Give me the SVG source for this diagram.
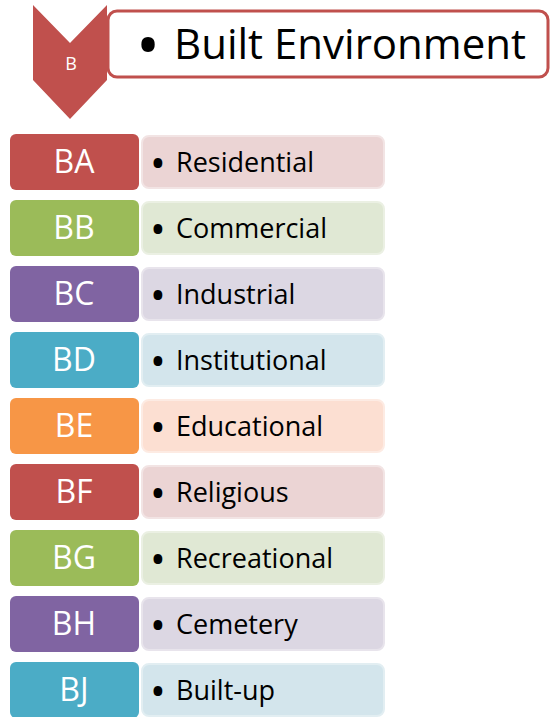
<svg xmlns="http://www.w3.org/2000/svg" width="550" height="717" viewBox="0 0 550 717">
<style>
.lab{fill:#fff;font-family:"Open Sans","Liberation Sans",sans-serif;font-size:32px;text-anchor:middle}
.txt{fill:#000;font-family:"Open Sans","Liberation Sans",sans-serif;font-size:27px}
.bul{fill:#000;font-family:"Open Sans","Liberation Sans",sans-serif;font-size:42px}
.r{fill:#C0504D}.g{fill:#9BBB59}.p{fill:#8064A2}.t{fill:#4BACC6}.o{fill:#F79646}
.rl{fill:#EBD4D4;stroke:#F2E4E4}.gl{fill:#E0E8D4;stroke:#EBF0E3}.pl{fill:#DCD7E3;stroke:#E8E4EC}.tl{fill:#D3E5EC;stroke:#E2EEF2}.ol{fill:#FCDFD2;stroke:#FDEBE3}
</style>
<g id="header">
<rect x="108" y="11" width="440" height="66" rx="9" fill="#fff" stroke="#C0504D" stroke-width="3"/>
<polygon points="33,5 70,43 107,5 107,80 70,119 33,80" fill="#C0504D"/>
<text x="71" y="70" fill="#fff" font-family="Open Sans,Liberation Sans,sans-serif" font-size="18" text-anchor="middle">B</text>
<text x="136" y="68" font-family="Open Sans,Liberation Sans,sans-serif" font-size="64">•</text>
<text x="174" y="59" font-family="Open Sans,Liberation Sans,sans-serif" font-size="42">Built Environment</text>
</g>
<g id="BA"><rect x="142" y="136" width="242" height="52" rx="7" class="rl" stroke-width="2"/><rect x="10" y="134" width="129" height="56" rx="6" class="r"/><text x="74" y="173" class="lab">BA</text><text x="150" y="178" class="bul">•</text><text x="176" y="172" class="txt">Residential</text></g>
<g id="BB"><rect x="142" y="202" width="242" height="52" rx="7" class="gl" stroke-width="2"/><rect x="10" y="200" width="129" height="56" rx="6" class="g"/><text x="74" y="239" class="lab">BB</text><text x="150" y="244" class="bul">•</text><text x="176" y="238" class="txt">Commercial</text></g>
<g id="BC"><rect x="142" y="268" width="242" height="52" rx="7" class="pl" stroke-width="2"/><rect x="10" y="266" width="129" height="56" rx="6" class="p"/><text x="74" y="305" class="lab">BC</text><text x="150" y="310" class="bul">•</text><text x="176" y="304" class="txt">Industrial</text></g>
<g id="BD"><rect x="142" y="334" width="242" height="52" rx="7" class="tl" stroke-width="2"/><rect x="10" y="332" width="129" height="56" rx="6" class="t"/><text x="74" y="371" class="lab">BD</text><text x="150" y="376" class="bul">•</text><text x="176" y="370" class="txt">Institutional</text></g>
<g id="BE"><rect x="142" y="400" width="242" height="52" rx="7" class="ol" stroke-width="2"/><rect x="10" y="398" width="129" height="56" rx="6" class="o"/><text x="74" y="437" class="lab">BE</text><text x="150" y="442" class="bul">•</text><text x="176" y="436" class="txt">Educational</text></g>
<g id="BF"><rect x="142" y="466" width="242" height="52" rx="7" class="rl" stroke-width="2"/><rect x="10" y="464" width="129" height="56" rx="6" class="r"/><text x="74" y="503" class="lab">BF</text><text x="150" y="508" class="bul">•</text><text x="176" y="502" class="txt">Religious</text></g>
<g id="BG"><rect x="142" y="532" width="242" height="52" rx="7" class="gl" stroke-width="2"/><rect x="10" y="530" width="129" height="56" rx="6" class="g"/><text x="74" y="569" class="lab">BG</text><text x="150" y="574" class="bul">•</text><text x="176" y="568" class="txt">Recreational</text></g>
<g id="BH"><rect x="142" y="598" width="242" height="52" rx="7" class="pl" stroke-width="2"/><rect x="10" y="596" width="129" height="56" rx="6" class="p"/><text x="74" y="635" class="lab">BH</text><text x="150" y="640" class="bul">•</text><text x="176" y="634" class="txt">Cemetery</text></g>
<g id="BJ"><rect x="142" y="664" width="242" height="52" rx="7" class="tl" stroke-width="2"/><rect x="10" y="662" width="129" height="56" rx="6" class="t"/><text x="74" y="701" class="lab">BJ</text><text x="150" y="706" class="bul">•</text><text x="176" y="700" class="txt">Built-up</text></g>
<g id="connectors"/>
</svg>
